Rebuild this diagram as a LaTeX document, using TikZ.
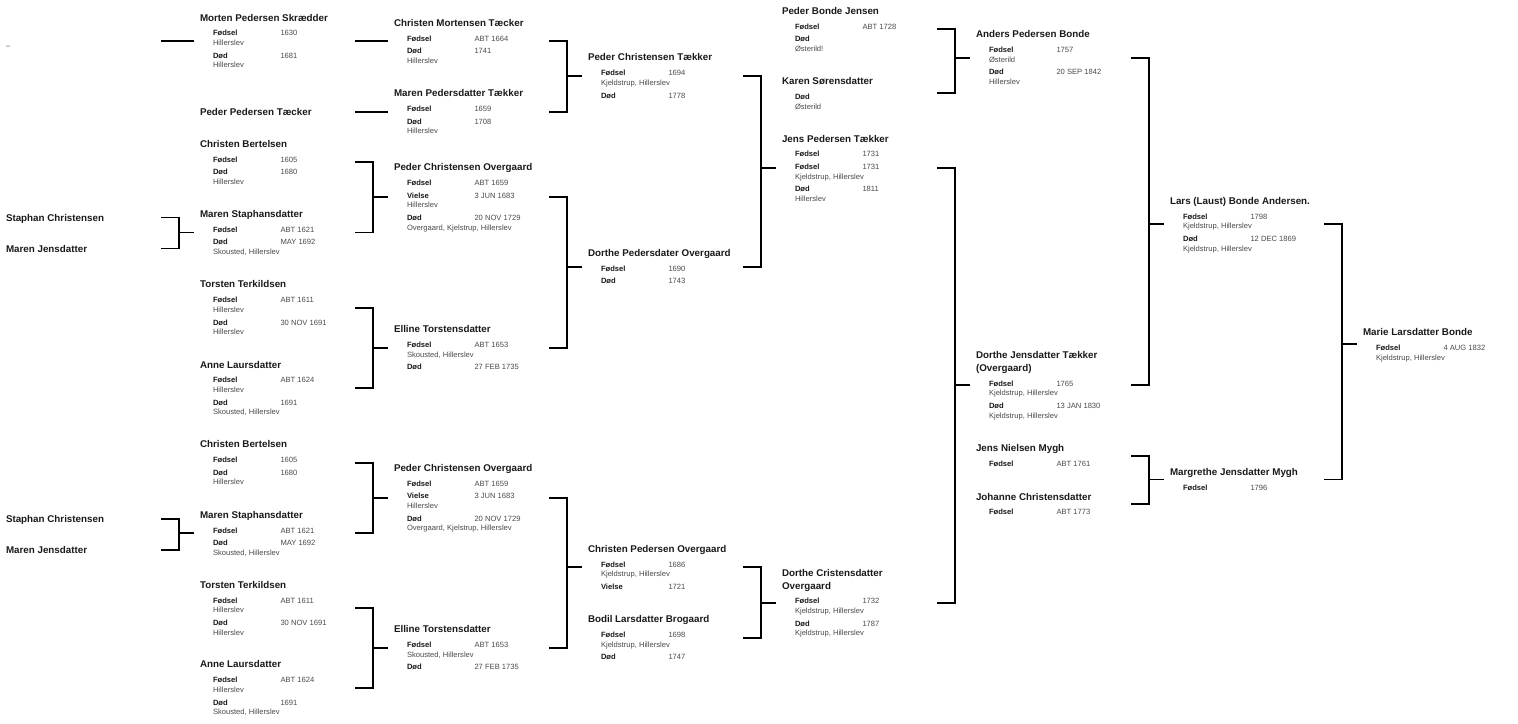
\documentclass[tikz,border=0pt]{standalone}
\usepackage{fontspec}
\setmainfont{Liberation Sans}
\usetikzlibrary{calc}
\definecolor{namecol}{HTML}{1A1A1A}
\definecolor{valgray}{HTML}{4A4A4A}
\newcommand\namefont{\fontsize{9.8pt}{12pt}\selectfont\bfseries\color{namecol}}
\newcommand\lblfont{\fontsize{7.6pt}{9pt}\selectfont\bfseries\color{namecol}}
\newcommand\valfont{\fontsize{7.6pt}{9pt}\selectfont\color{valgray}}
\newcommand\pn[1]{\hbox{\rule{0pt}{7pt}\smash{\namefont #1}}}
\newcommand\ev[3]{\kern7.2pt\hbox{\hspace*{13pt}\makebox[67.5pt][l]{\rule{0pt}{5.4pt}\smash{\lblfont #1}}\smash{\valfont #2}}%
  \if\relax\detokenize{#3}\relax\else\kern4.3pt\hbox{\hspace*{13pt}\rule{0pt}{5.4pt}\smash{\valfont #3}}\fi}
\newcommand\person[5]{\node[person] (#1) at (#2,#3) {\vbox{\offinterlineskip #4\if\relax\detokenize{#5}\relax\else\kern2.2pt #5\fi}};}
\newcommand\brk[3]{%
  \draw[conn] ($(#2.west -| #1.west)+(-39,0)$) -| ($(#1.west)+(-21,0)$) |- ($(#3.west -| #1.west)+(-39,0)$);
  \draw[conn] ($(#1.west)+(-21,0)$) -- ($(#1.west)+(-6,0)$);}
\tikzset{
  person/.style={anchor=west, inner sep=0pt, outer sep=0pt},
  conn/.style={line width=1.8pt, black, line join=miter}
}
\begin{document}
\begin{tikzpicture}[x=1pt,y=-1pt]
\fill[white] (0,0) rectangle (1518,723);
\useasboundingbox (0,0) rectangle (1518,723);

% column 0
\node[anchor=base west, inner sep=0pt, font=\fontsize{7.6pt}{9pt}\selectfont, text=valgray] (dash) at (6,48.5) {–};
\person{s1}{6}{217.5}{\pn{Staphan Christensen}}{}
\person{mj1}{6}{248.5}{\pn{Maren Jensdatter}}{}
\person{s2}{6}{519.3}{\pn{Staphan Christensen}}{}
\person{mj2}{6}{550}{\pn{Maren Jensdatter}}{}

% column 1
\person{morten}{200}{41}{\pn{Morten Pedersen Skrædder}}{\ev{Fødsel}{1630}{Hillerslev}\ev{Død}{1681}{Hillerslev}}
\person{ppt}{200}{112}{\pn{Peder Pedersen Tæcker}}{}
\person{cb1}{200}{162.3}{\pn{Christen Bertelsen}}{\ev{Fødsel}{1605}{}\ev{Død}{1680}{Hillerslev}}
\person{ms1}{200}{232.5}{\pn{Maren Staphansdatter}}{\ev{Fødsel}{ABT 1621}{}\ev{Død}{MAY 1692}{Skousted, Hillerslev}}
\person{tt1}{200}{307.8}{\pn{Torsten Terkildsen}}{\ev{Fødsel}{ABT 1611}{Hillerslev}\ev{Død}{30 NOV 1691}{Hillerslev}}
\person{al1}{200}{388}{\pn{Anne Laursdatter}}{\ev{Fødsel}{ABT 1624}{Hillerslev}\ev{Død}{1691}{Skousted, Hillerslev}}
\person{cb2}{200}{462.7}{\pn{Christen Bertelsen}}{\ev{Fødsel}{1605}{}\ev{Død}{1680}{Hillerslev}}
\person{ms2}{200}{533.3}{\pn{Maren Staphansdatter}}{\ev{Fødsel}{ABT 1621}{}\ev{Død}{MAY 1692}{Skousted, Hillerslev}}
\person{tt2}{200}{608.3}{\pn{Torsten Terkildsen}}{\ev{Fødsel}{ABT 1611}{Hillerslev}\ev{Død}{30 NOV 1691}{Hillerslev}}
\person{al2}{200}{687.8}{\pn{Anne Laursdatter}}{\ev{Fødsel}{ABT 1624}{Hillerslev}\ev{Død}{1691}{Skousted, Hillerslev}}

% column 2
\person{cmt}{394}{41.3}{\pn{Christen Mortensen Tæcker}}{\ev{Fødsel}{ABT 1664}{}\ev{Død}{1741}{Hillerslev}}
\person{mpt}{394}{111.7}{\pn{Maren Pedersdatter Tækker}}{\ev{Fødsel}{1659}{}\ev{Død}{1708}{Hillerslev}}
\person{pco1}{394}{197}{\pn{Peder Christensen Overgaard}}{\ev{Fødsel}{ABT 1659}{}\ev{Vielse}{3 JUN 1683}{Hillerslev}\ev{Død}{20 NOV 1729}{Overgaard, Kjelstrup, Hillerslev}}
\person{et1}{394}{347.7}{\pn{Elline Torstensdatter}}{\ev{Fødsel}{ABT 1653}{Skousted, Hillerslev}\ev{Død}{27 FEB 1735}{}}
\person{pco2}{394}{497.7}{\pn{Peder Christensen Overgaard}}{\ev{Fødsel}{ABT 1659}{}\ev{Vielse}{3 JUN 1683}{Hillerslev}\ev{Død}{20 NOV 1729}{Overgaard, Kjelstrup, Hillerslev}}
\person{et2}{394}{647.7}{\pn{Elline Torstensdatter}}{\ev{Fødsel}{ABT 1653}{Skousted, Hillerslev}\ev{Død}{27 FEB 1735}{}}

% column 3
\person{pct}{588}{76}{\pn{Peder Christensen Tækker}}{\ev{Fødsel}{1694}{Kjeldstrup, Hillerslev}\ev{Død}{1778}{}}
\person{dpo}{588}{266.7}{\pn{Dorthe Pedersdater Overgaard}}{\ev{Fødsel}{1690}{}\ev{Død}{1743}{}}
\person{cpo}{588}{567.3}{\pn{Christen Pedersen Overgaard}}{\ev{Fødsel}{1686}{Kjeldstrup, Hillerslev}\ev{Vielse}{1721}{}}
\person{blb}{588}{637.7}{\pn{Bodil Larsdatter Brogaard}}{\ev{Fødsel}{1698}{Kjeldstrup, Hillerslev}\ev{Død}{1747}{}}

% column 4
\person{pbj}{782}{29.3}{\pn{Peder Bonde Jensen}}{\ev{Fødsel}{ABT 1728}{}\ev{Død}{}{Østerild!}}
\person{ks}{782}{93.3}{\pn{Karen Sørensdatter}}{\ev{Død}{}{Østerild}}
\person{jpt}{782}{168.3}{\pn{Jens Pedersen Tækker}}{\ev{Fødsel}{1731}{}\ev{Fødsel}{1731}{Kjeldstrup, Hillerslev}\ev{Død}{1811}{Hillerslev}}
\person{dco}{782}{602.7}{\pn{Dorthe Cristensdatter}\kern5.7pt\pn{Overgaard}}{\ev{Fødsel}{1732}{Kjeldstrup, Hillerslev}\ev{Død}{1787}{Kjeldstrup, Hillerslev}}

% column 5
\person{apb}{976}{57.7}{\pn{Anders Pedersen Bonde}}{\ev{Fødsel}{1757}{Østerild}\ev{Død}{20 SEP 1842}{Hillerslev}}
\person{djt}{976}{385}{\pn{Dorthe Jensdatter Tækker}\kern5.7pt\pn{(Overgaard)}}{\ev{Fødsel}{1765}{Kjeldstrup, Hillerslev}\ev{Død}{13 JAN 1830}{Kjeldstrup, Hillerslev}}
\person{jnm}{976}{455.8}{\pn{Jens Nielsen Mygh}}{\ev{Fødsel}{ABT 1761}{}}
\person{jc}{976}{504}{\pn{Johanne Christensdatter}}{\ev{Fødsel}{ABT 1773}{}}

% column 6
\person{lba}{1170}{224.3}{\pn{Lars (Laust) Bonde Andersen.}}{\ev{Fødsel}{1798}{Kjeldstrup, Hillerslev}\ev{Død}{12 DEC 1869}{Kjeldstrup, Hillerslev}}
\person{mjm}{1170}{479.5}{\pn{Margrethe Jensdatter Mygh}}{\ev{Fødsel}{1796}{}}

% column 7
\person{mlb}{1363}{344.3}{\pn{Marie Larsdatter Bonde}}{\ev{Fødsel}{4 AUG 1832}{Kjeldstrup, Hillerslev}}

% connectors
\draw[conn] ($(morten.west)+(-39,0)$) -- ($(morten.west)+(-6,0)$);
\draw[conn] ($(cmt.west)+(-39,0)$) -- ($(cmt.west)+(-6,0)$);
\draw[conn] ($(mpt.west)+(-39,0)$) -- ($(mpt.west)+(-6,0)$);
\brk{ms1}{s1}{mj1}
\brk{ms2}{s2}{mj2}
\brk{pco1}{cb1}{ms1}
\brk{et1}{tt1}{al1}
\brk{pco2}{cb2}{ms2}
\brk{et2}{tt2}{al2}
\brk{pct}{cmt}{mpt}
\brk{dpo}{pco1}{et1}
\brk{cpo}{pco2}{et2}
\brk{dco}{cpo}{blb}
\brk{jpt}{pct}{dpo}
\brk{apb}{pbj}{ks}
\brk{djt}{jpt}{dco}
\brk{lba}{apb}{djt}
\brk{mjm}{jnm}{jc}
\brk{mlb}{lba}{mjm}
\end{tikzpicture}
\end{document}
